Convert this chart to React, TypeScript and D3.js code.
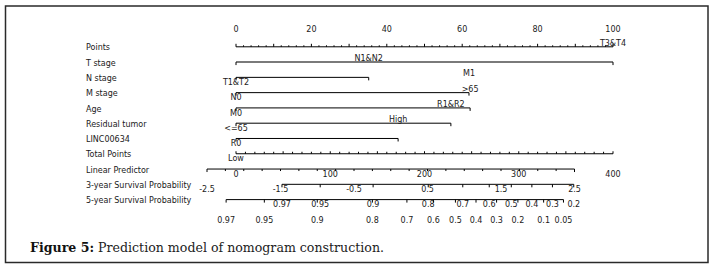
import React from "react";
import * as d3 from "d3";

const rowNames = [
  "Points",
  "T stage",
  "N stage",
  "M stage",
  "Age",
  "Residual tumor",
  "LINC00634",
  "Total Points",
  "Linear Predictor",
  "3-year Survival Probability",
  "5-year Survival Probability",
];

const pointTicks = [0, 20, 40, 60, 80, 100];

const varNames = ["T stage", "N stage", "M stage", "Age", "Residual tumor", "LINC00634"];
const varLow = ["T1&T2", "N0", "M0", "<=65", "R0", "Low"];
const varHigh = ["T3&T4", "N1&N2", "M1", ">65", "R1&R2", "High"];
const varPoints = [100, 35.2, 61.8, 62.1, 57.0, 43.0];

const totalTicks = [0, 100, 200, 300, 400];
const lpTicks = [-2.5, -1.5, -0.5, 0.5, 1.5, 2.5];

const surv3Labels = ["0.97", "0.95", "0.9", "0.8", "0.7", "0.6", "0.5", "0.4", "0.3", "0.2"];
const surv3LP = [-1.48, -0.96, -0.24, 0.51, 0.98, 1.34, 1.64, 1.92, 2.2, 2.49];

const surv5Labels = ["0.97", "0.95", "0.9", "0.8", "0.7", "0.6", "0.5", "0.4", "0.3", "0.2", "0.1", "0.05"];
const surv5LP = [-2.24, -1.72, -1.0, -0.25, 0.22, 0.58, 0.88, 1.16, 1.44, 1.73, 2.08, 2.35];

const W = 716;
const H = 271;

export default function App() {
  const xPts = d3.scaleLinear().domain([0, 100]).range([236, 613]);
  const xTot = d3.scaleLinear().domain([0, 400]).range([236, 613]);
  const xLP = d3.scaleLinear().domain([-2.5, 2.5]).range([207, 574.5]);
  const y = d3.scalePoint<string>().domain(rowNames).range([46.8, 199.6]);

  const font = "DejaVu Sans, sans-serif";
  const fs = 8;
  const txt = "#1a1a1a";
  const below = 23;
  const above = 16.3;

  const yP = y("Points")!;
  const yT = y("Total Points")!;
  const yL = y("Linear Predictor")!;
  const y3 = y("3-year Survival Probability")!;
  const y5 = y("5-year Survival Probability")!;

  const minorPts = d3.range(0, 100.001, 2);
  const minorTot = d3.range(0, 400.001, 10);
  const minorLP = d3.range(-2.5, 2.5001, 0.25);

  return (
    <div style={{ position: "absolute", left: 0, top: 0 }}>
      <svg width={W} height={H} style={{ display: "block", background: "#fff" }}>
        <rect x={5.5} y={6} width={702.5} height={256.5} fill="none" stroke="#2a2a2a" strokeWidth={1.5} />

        {/* row names */}
        {rowNames.map((n) => (
          <text key={n} x={86} y={y(n)! + 3.6} fontFamily={font} fontSize={fs} fill={txt}>
            {n}
          </text>
        ))}

        {/* Points axis */}
        <line x1={xPts(0)} x2={xPts(100)} y1={yP} y2={yP} stroke="#000" strokeWidth={1} />
        {minorPts.map((v) => (
          <line
            key={"pm" + v}
            x1={xPts(v)}
            x2={xPts(v)}
            y1={yP}
            y2={yP - (v % 10 === 0 ? 3 : 1.5)}
            stroke="#000"
            strokeWidth={1}
          />
        ))}
        {pointTicks.map((v) => (
          <text key={"pt" + v} x={xPts(v)} y={yP - 14.5} textAnchor="middle" fontFamily={font} fontSize={fs} fill={txt}>
            {v}
          </text>
        ))}

        {/* variables */}
        {varNames.map((n, i) => {
          const yy = y(n)!;
          const x0 = xPts(0);
          const x1 = xPts(varPoints[i]);
          const isT = i === 0;
          return (
            <g key={n}>
              <line
                x1={x0}
                x2={x1}
                y1={yy}
                y2={yy}
                stroke={isT ? "#7a7a7a" : "#000"}
                strokeWidth={isT ? 2 : 1}
              />
              <line x1={x0} x2={x0} y1={yy} y2={yy + 3} stroke="#000" strokeWidth={1} />
              <line x1={x1} x2={x1} y1={yy} y2={yy + 3} stroke="#000" strokeWidth={1} />
              <text x={x0} y={yy + below} textAnchor="middle" fontFamily={font} fontSize={fs} fill={txt}>
                {varLow[i]}
              </text>
              <text x={x1} y={yy - above} textAnchor="middle" fontFamily={font} fontSize={fs} fill={txt}>
                {varHigh[i]}
              </text>
            </g>
          );
        })}

        {/* Total points */}
        <line x1={xTot(0)} x2={xTot(400)} y1={yT} y2={yT} stroke="#000" strokeWidth={1} />
        {minorTot.map((v) => (
          <line
            key={"tm" + v}
            x1={xTot(v)}
            x2={xTot(v)}
            y1={yT}
            y2={yT - (v % 50 === 0 ? 2.5 : 2)}
            stroke="#000"
            strokeWidth={1}
          />
        ))}
        {totalTicks.map((v) => (
          <text key={"tt" + v} x={xTot(v)} y={yT + below} textAnchor="middle" fontFamily={font} fontSize={fs} fill={txt}>
            {v}
          </text>
        ))}

        {/* Linear predictor */}
        <line x1={xLP(-2.5)} x2={xLP(2.5)} y1={yL} y2={yL} stroke="#000" strokeWidth={1} />
        {minorLP.map((v, i) => (
          <line
            key={"lm" + i}
            x1={xLP(v)}
            x2={xLP(v)}
            y1={yL}
            y2={yL + (i === 0 || i === minorLP.length - 1 ? 3 : 2)}
            stroke="#000"
            strokeWidth={1}
          />
        ))}
        {lpTicks.map((v) => (
          <text key={"lt" + v} x={xLP(v)} y={yL + below} textAnchor="middle" fontFamily={font} fontSize={fs} fill={txt}>
            {d3.format(".1f")(v).replace("−", "-")}
          </text>
        ))}

        {/* 3-year survival */}
        <line
          x1={xLP(surv3LP[0])}
          x2={xLP(surv3LP[surv3LP.length - 1])}
          y1={y3}
          y2={y3}
          stroke="#000"
          strokeWidth={1}
        />
        {surv3LP.map((v, i) => (
          <g key={"s3" + i}>
            <line x1={xLP(v)} x2={xLP(v)} y1={y3} y2={y3 + 3} stroke="#000" strokeWidth={1} />
            <text x={xLP(v)} y={y3 + below} textAnchor="middle" fontFamily={font} fontSize={fs} fill={txt}>
              {surv3Labels[i]}
            </text>
          </g>
        ))}

        {/* 5-year survival */}
        <line
          x1={xLP(surv5LP[0])}
          x2={xLP(surv5LP[surv5LP.length - 1])}
          y1={y5}
          y2={y5}
          stroke="#000"
          strokeWidth={1}
        />
        {surv5LP.map((v, i) => (
          <g key={"s5" + i}>
            <line x1={xLP(v)} x2={xLP(v)} y1={y5} y2={y5 + 3} stroke="#000" strokeWidth={1} />
            <text x={xLP(v)} y={y5 + below} textAnchor="middle" fontFamily={font} fontSize={fs} fill={txt}>
              {surv5Labels[i]}
            </text>
          </g>
        ))}

        {/* caption */}
        <text x={30} y={251.7} fontFamily="DejaVu Serif, serif" fontSize={12.5} fill="#222" textLength={354} lengthAdjust="spacingAndGlyphs">
          <tspan fontWeight="bold" fill="#111">Figure 5:</tspan>
          <tspan> Prediction model of nomogram construction.</tspan>
        </text>
      </svg>
    </div>
  );
}
